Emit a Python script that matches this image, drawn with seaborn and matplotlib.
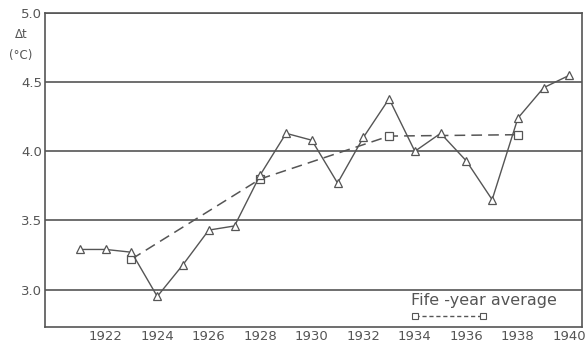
import matplotlib
matplotlib.use("Agg")
import matplotlib.pyplot as plt
import seaborn as sns
import pandas as pd

# yearly temperature difference
years = list(range(1921, 1941))
dt = [3.29, 3.29, 3.27, 2.95, 3.18, 3.43, 3.46, 3.83, 4.13, 4.08,
      3.77, 4.10, 4.38, 4.00, 4.13, 3.93, 3.65, 4.24, 4.46, 4.55]

# five-year averages
avg_years = [1923, 1928, 1933, 1938]
avg_dt = [3.22, 3.80, 4.11, 4.12]

yticks = [3.0, 3.5, 4.0, 4.5, 5.0]
xticks = list(range(1922, 1941, 2))

ink = "#555555"

sns.set_style("white")
plt.rcParams['font.family'] = ['DejaVu Sans']

df = pd.DataFrame({"year": years, "dt": dt})
avg = pd.DataFrame({"year": avg_years, "dt": avg_dt})

fig = plt.figure(figsize=(5.87, 3.43), dpi=100)
ax = fig.add_axes([0.077, 0.047, 0.915, 0.915])

for v in yticks:
    ax.axhline(v, color=ink, lw=1.2, zorder=1)

sns.lineplot(data=df, x="year", y="dt", ax=ax, color=ink, lw=1.0,
             marker="^", markersize=6, markerfacecolor="white",
             markeredgecolor=ink, markeredgewidth=0.9, zorder=3)
sns.lineplot(data=avg, x="year", y="dt", ax=ax, color=ink, lw=1.1,
             marker="s", markersize=6,
             markerfacecolor="white", markeredgecolor=ink,
             markeredgewidth=0.9, zorder=2)
ax.lines[-1].set_linestyle((0, (7, 4)))

ax.set_xlim(1919.65, 1940.5)
ax.set_ylim(2.73, 5.0)
ax.set_xticks(list(range(1921, 1941)), minor=True)
ax.set_xticks(xticks)
ax.set_xticklabels([str(x) for x in xticks])
ax.set_yticks(yticks)
ax.set_yticklabels([f"{v:.1f}" for v in yticks])
ax.tick_params(axis="x", which="both", direction="in", length=3,
               color=ink, labelsize=9.5, labelcolor=ink, pad=2)
ax.tick_params(axis="y", length=0, labelsize=9.5, labelcolor=ink, pad=2)
ax.set_xlabel("")
ax.set_ylabel("")

for s in ["left", "right", "bottom", "top"]:
    ax.spines[s].set_visible(True)
    ax.spines[s].set_color(ink)
    ax.spines[s].set_linewidth(1.2)

fig.text(0.036, 0.898, "Δt", color=ink, fontsize=8.5, ha="center", va="center")
fig.text(0.036, 0.837, "(°C)", color=ink, fontsize=8.5, ha="center", va="center")

# legend drawn by hand as in the original
ax.text(1933.85, 2.87, "Fife -year average", color=ink, fontsize=11.5,
        ha="left", va="bottom")
sns.lineplot(x=[1934.0, 1936.65], y=[2.81, 2.81], ax=ax, color=ink, lw=1.0,
             marker="s", markersize=4,
             markerfacecolor="white", markeredgecolor=ink,
             markeredgewidth=0.8)
ax.lines[-1].set_linestyle((0, (3, 2)))

fig.savefig("out.png", dpi=100)
